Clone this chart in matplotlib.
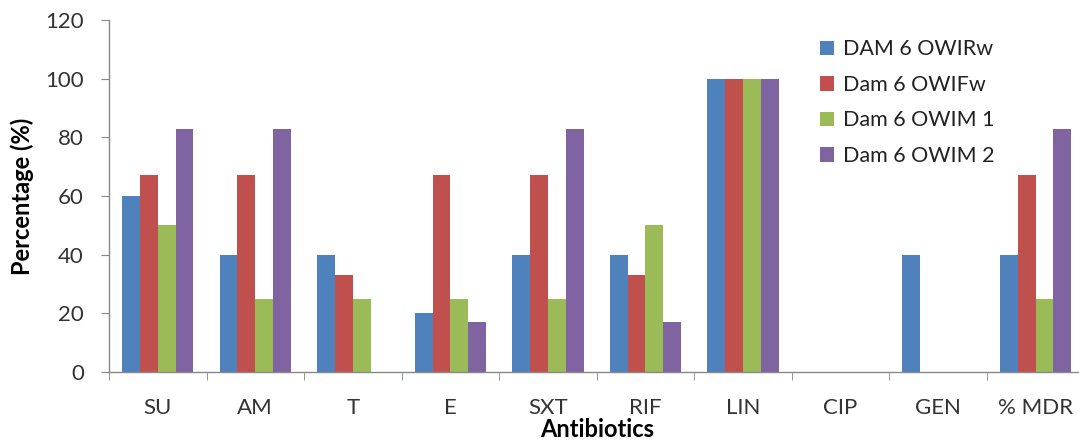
import matplotlib
matplotlib.use("Agg")
import matplotlib.pyplot as plt
import numpy as np
from matplotlib.ticker import FixedLocator

categories = ["SU", "AM", "T", "E", "SXT", "RIF", "LIN", "CIP", "GEN", "% MDR"]
series_names = ["DAM 6 OWIRw", "Dam 6 OWIFw", "Dam 6 OWIM 1", "Dam 6 OWIM 2"]
owirw = [60, 40, 40, 20, 40, 40, 100, 0, 40, 40]
owifw = [67, 67, 33, 67, 67, 33, 100, 0, 0, 67]
owim1 = [50, 25, 25, 25, 25, 50, 100, 0, 0, 25]
owim2 = [83, 83, 0, 17, 83, 17, 100, 0, 0, 83]
colors = ["#4F81BD", "#C0504D", "#9BBB59", "#8064A2"]

plt.rcParams['font.family'] = ['Lato', 'DejaVu Sans']

fig = plt.figure(figsize=(10.79, 4.47), dpi=100)
ax = fig.add_axes([0.101, 0.168, 0.904, 0.787])

x = np.arange(len(categories))
bw = 0.183
data = [owirw, owifw, owim1, owim2]
for i, (vals, name, c) in enumerate(zip(data, series_names, colors)):
    ax.bar(x + (i - 1.5) * bw, vals, width=bw, color=c, label=name, zorder=2)

ax.set_xlim(-0.5, len(categories) - 0.5)
ax.set_ylim(0, 120)
ax.set_yticks(range(0, 121, 20))
ax.set_xticks(x)
ax.set_xticklabels(categories)
ax.xaxis.set_minor_locator(FixedLocator(np.arange(-0.5, len(categories), 1.0)))
ax.tick_params(axis='x', which='major', length=0, pad=19, labelsize=16, labelcolor='#333333')
ax.tick_params(axis='x', which='minor', length=6, color='#888888', direction='out')
ax.tick_params(axis='y', which='major', length=6, color='#888888', direction='out', labelsize=16, labelcolor='#333333', pad=12)

for s in ['top', 'right']:
    ax.spines[s].set_visible(False)
for s in ['left', 'bottom']:
    ax.spines[s].set_color('#888888')
    ax.spines[s].set_linewidth(1.0)

ax.set_ylabel("Percentage (%)", fontsize=17, fontweight='bold', labelpad=8)
ax.set_xlabel("Antibiotics", fontsize=17, fontweight='bold', labelpad=0)

leg = fig.legend(loc='upper left', bbox_to_anchor=(0.742, 0.955), frameon=False,
                 fontsize=15.5, handlelength=0.65, handleheight=0.65, handletextpad=0.4,
                 labelspacing=0.72)
for t in leg.get_texts():
    t.set_color('#222222')

fig.savefig("out.png", dpi=100)
